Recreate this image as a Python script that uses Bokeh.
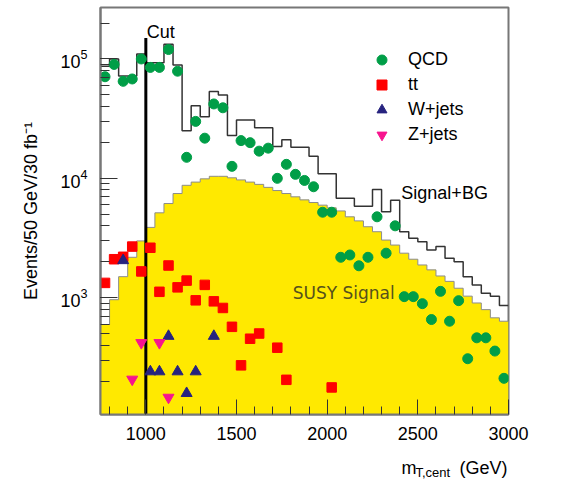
from bokeh.plotting import figure
from bokeh.layouts import column
from bokeh.models import Label, Legend, LegendItem, FixedTicker, LogTicker, Range1d
from bokeh.embed import file_html
from bokeh.resources import INLINE

# ---------------- data ----------------
BIN_WIDTH = 50
X_MIN, X_MAX = 750, 3000
Y_MIN, Y_MAX = 105, 2.7e5
FILL_BASE = 1
CUT = 1000
CUT_TOP = 1.5e5

bin_centers = [775, 825, 875, 925, 975, 1025, 1075, 1125, 1175, 1225,
               1275, 1325, 1375, 1425, 1475, 1525, 1575, 1625, 1675, 1725,
               1775, 1825, 1875, 1925, 1975, 2025, 2075, 2125, 2175, 2225,
               2275, 2325, 2375, 2425, 2475, 2525, 2575, 2625, 2675, 2725,
               2775, 2825, 2875, 2925, 2975]

susy_signal = [596, 962, 1500, 2180, 2990, 3880, 5140, 6150, 7460, 8740,
               9300, 9900, 10400, 10400, 10100, 9700, 9300, 8900, 8400, 7900,
               7460, 7000, 6600, 6270, 5960, 5660, 5330, 4760, 4400, 3930,
               3570, 3040, 2760, 2360, 2100, 1880, 1710, 1520, 1370, 1200,
               1030, 903, 794, 678, 635]

signal_bg = [87000, 100000, 72000, 72000, 110000, 93000, 93000, 133000, 89000, 25000,
             40600, 32800, 53500, 50000, 22800, 30800, 30800, 26500, 26500, 18500,
             21000, 18200, 18200, 15300, 10900, 10900, 6800, 6800, 5840, 5840,
             8060, 5240, 6560, 3570, 3150, 2940, 2510, 2680, 2140, 2000,
             1500, 1280, 1090, 1030, 858]

qcd = [71000, 90000, 65000, 68000, 100000, 85000, 85000, 120000, 79000, 15000,
       30000, 21700, 42000, 39000, 12600, 20700, 19900, 16900, 17900, 10000,
       13100, 10800, 9600, 8500, 5200, 5200, 2180, 2280, 1850, 2180,
       4760, 2360, 4000, 1020, 1020, 891, 656, 1130, 635, 944,
       308, 461, 461, 357, 211]

tt_x = [775, 825, 875, 925, 975, 1025, 1075, 1125, 1175, 1225, 1275,
        1325, 1375, 1425, 1475, 1525, 1575, 1625, 1725, 1775, 2025]
tt_y = [1330, 2100, 2200, 2680, 1660, 2620, 1120, 1860, 1220, 1390, 950,
        1280, 932, 820, 570, 271, 453, 501, 381, 205, 177]

wjets_x = [875, 1025, 1075, 1125, 1175, 1225, 1275, 1375]
wjets_y = [2050, 240, 240, 476, 240, 158, 240, 476]

zjets_x = [925, 975, 1075, 1125]
zjets_y = [207, 419, 419, 146]

x_major_ticks = [1000, 1500, 2000, 2500, 3000]
x_minor_ticks = [800, 900, 1100, 1200, 1300, 1400, 1600, 1700, 1800, 1900,
                 2100, 2200, 2300, 2400, 2600, 2700, 2800, 2900]

# ---------------- colours / fonts ----------------
YELLOW = "#FFE900"
GREEN = "#009E47"
RED = "#FF0000"
NAVY = "#27237F"
MAGENTA = "#F7148E"
FONT = "Liberation Sans"

W, H_MAIN, H_TITLE = 561, 448, 33
BORDER_L, BORDER_R = 100, 53

p = figure(width=W, height=H_MAIN, y_axis_type="log",
           x_range=Range1d(X_MIN, X_MAX), y_range=Range1d(Y_MIN, Y_MAX),
           output_backend="svg", toolbar_location=None,
           min_border_left=BORDER_L, min_border_right=BORDER_R,
           min_border_top=7, min_border_bottom=34)
p.background_fill_color = "white"
p.border_fill_color = "white"
p.xgrid.visible = False
p.ygrid.visible = False
p.outline_line_color = "#777777"
p.outline_line_width = 2

edges = [c - BIN_WIDTH / 2 for c in bin_centers] + [bin_centers[-1] + BIN_WIDTH / 2]

# SUSY signal (filled step area)
p.varea_step(x=edges, y1=[FILL_BASE] * len(edges), y2=susy_signal + [susy_signal[-1]],
             step_mode="after", fill_color=YELLOW)
p.step(x=edges, y=susy_signal + [susy_signal[-1]], mode="after",
       line_color="#8c8c8c", line_width=1)

# Signal + BG outline
p.step(x=edges, y=signal_bg + [signal_bg[-1]], mode="after",
       line_color="#333333", line_width=1.5)

# cut line
p.segment(x0=[CUT], y0=[FILL_BASE], x1=[CUT], y1=[CUT_TOP],
          line_color="black", line_width=3)

r_qcd = p.scatter(bin_centers, qcd, marker="circle", size=10,
                  fill_color=GREEN, line_color=GREEN)
r_tt = p.scatter(tt_x, tt_y, marker="square", size=9.5,
                 fill_color=RED, line_color=RED)
r_w = p.scatter(wjets_x, wjets_y, marker="triangle", size=11,
                fill_color=NAVY, line_color=NAVY)
r_z = p.scatter(zjets_x, zjets_y, marker="inverted_triangle", size=11,
                fill_color=MAGENTA, line_color=MAGENTA)

legend = Legend(items=[LegendItem(label="QCD", renderers=[r_qcd]),
                       LegendItem(label="tt", renderers=[r_tt]),
                       LegendItem(label="W+jets", renderers=[r_w]),
                       LegendItem(label="Z+jets", renderers=[r_z])],
                location=(264, 267), glyph_width=35, glyph_height=25,
                label_height=25, spacing=0, label_standoff=9,
                padding=0, margin=0, border_line_alpha=0,
                background_fill_alpha=0,
                label_text_font=FONT, label_text_font_size="18px",
                label_text_color="black")
p.add_layout(legend)

# axes
p.xaxis.ticker = FixedTicker(ticks=x_major_ticks, minor_ticks=x_minor_ticks)
p.yaxis.ticker = LogTicker(num_minor_ticks=10)
for ax in p.axis:
    ax.major_tick_out = 0
    ax.minor_tick_out = 0
    ax.axis_line_color = "#777777"
    ax.axis_line_width = 2
    ax.major_tick_line_color = "#333333"
    ax.minor_tick_line_color = "#333333"
    ax.major_label_text_font = FONT
    ax.major_label_text_font_size = "18px"
    ax.major_label_text_color = "black"
p.xaxis.major_tick_in = 15
p.xaxis.minor_tick_in = 8
p.xaxis.major_label_standoff = 12
p.yaxis.major_tick_in = 17
p.yaxis.minor_tick_in = 9
p.yaxis.major_label_standoff = 13
p.yaxis.axis_label = "Events/50 GeV/30 fb\u207b\u00b9"
p.yaxis.axis_label_text_font = FONT
p.yaxis.axis_label_text_font_size = "18px"
p.yaxis.axis_label_text_font_style = "normal"
p.yaxis.axis_label_text_color = "black"
p.yaxis.axis_label_standoff = 16


def add_label(fig, x, y, text, size="18px", font=FONT, color="black", align="left"):
    fig.add_layout(Label(x=x, y=y, text=text,
                         text_font=font, text_font_size=size, text_color=color,
                         text_align=align, text_baseline="alphabetic"))


add_label(p, CUT + 5, 1.68e5, "Cut")
add_label(p, 2409, 7.6e3, "Signal+BG")
add_label(p, 1810, 1.1e3, "SUSY Signal", size="17px", font="DejaVu Sans", color="#56511c")

# x-axis title strip (its frame is aligned with the main frame by the column
# layout, so its x range is expressed in canvas pixels of that frame)
t = figure(width=W, height=H_TITLE, title=None,
           x_range=Range1d(BORDER_L, W - BORDER_R), y_range=Range1d(0, H_TITLE),
           output_backend="svg", toolbar_location=None,
           x_axis_location=None, y_axis_location=None,
           min_border_left=BORDER_L, min_border_right=BORDER_R,
           min_border_top=0, min_border_bottom=0)
t.xgrid.visible = False
t.ygrid.visible = False
t.outline_line_color = None
t.background_fill_color = "white"
t.border_fill_color = "white"
add_label(t, 401, 14, "m")
add_label(t, 415, 9, "T,cent", size="13px")
add_label(t, 507, 14, "(GeV)", align="right")

layout = column(p, t, spacing=0)
open("out.html", "w").write(file_html(layout, INLINE))
